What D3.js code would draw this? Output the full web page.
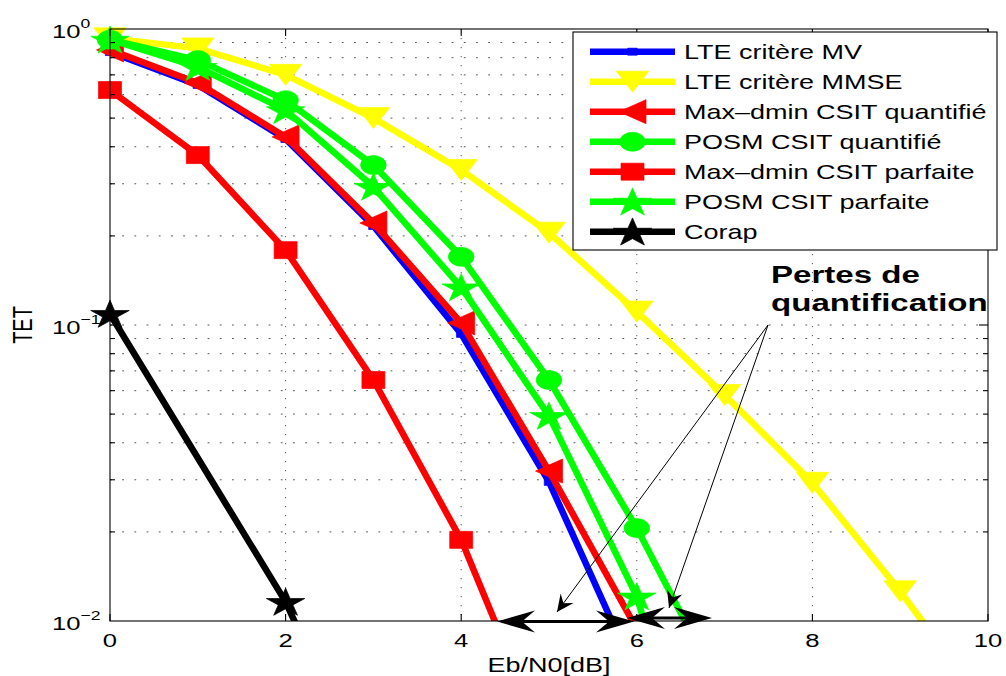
<!DOCTYPE html>
<html>
<head>
<meta charset="utf-8">
<script src="https://cdn.jsdelivr.net/npm/d3@7"></script>
<style>
  body { margin: 0; background: #fff; }
  svg { display: block; }
  text { font-family: "Liberation Sans", Arial, Helvetica, sans-serif; fill: #000; }
</style>
</head>
<body>
<svg id="chart" width="1006" height="676"></svg>
<script>
// Eb/N0 values (dB) at which each curve was simulated
const ebn0 = [0, 1, 2, 3, 4, 5, 6, 7, 8, 9, 10];
const corapEbn0 = [0, 2, 4];

// Bit error rate (TET) of each scheme
const lteMV       = [0.836, 0.647, 0.425, 0.216, 0.0933, 0.0295, 0.0065];
const lteMMSE     = [0.93, 0.86, 0.70, 0.50, 0.334, 0.205, 0.111, 0.058, 0.0293, 0.0126, 0.005];
const maxDminQ    = [0.85, 0.657, 0.432, 0.221, 0.1016, 0.0321, 0.0094];
const posmQ       = [0.92, 0.785, 0.575, 0.347, 0.170, 0.0652, 0.0206, 0.0055];
const maxDminP    = [0.622, 0.375, 0.179, 0.0652, 0.0188, 0.0036];
const posmP       = [0.92, 0.744, 0.532, 0.293, 0.134, 0.0493, 0.0121, 0.0012];
const corap       = [0.109, 0.0116, 0.0006];

const seriesNames = [
  "LTE critère MV",
  "LTE critère MMSE",
  "Max\u2013dmin CSIT quantifié",
  "POSM CSIT quantifié",
  "Max\u2013dmin CSIT parfaite",
  "POSM CSIT parfaite",
  "Corap"
];

// Axis ticks
const xTicks = [0, 2, 4, 6, 8, 10];
const yMajorTicks = [1, 0.1, 0.01];
const yTickExponents = ["0", "\u22121", "\u22122"];

const annotationLines = ["Pertes de", "quantification"];
const xLabel = "Eb/N0[dB]";
const yLabel = "TET";

// ---------------------------------------------------------------------------
const SX = 1.35;            // horizontal stretch of the whole figure (glyphs and markers)
const svg = d3.select("#chart");
const pL = 110, pR = 988, pT = 29, pB = 621;

const x = d3.scaleLinear().domain([0, 10]).range([pL, pR]);
const y = d3.scaleLog().domain([0.01, 1]).range([pB, pT]);

const series = [
  { name: seriesNames[0], xs: ebn0,      ys: lteMV,    color: "#0000ff", marker: "smallSquare" },
  { name: seriesNames[1], xs: ebn0,      ys: lteMMSE,  color: "#ffff00", marker: "triDown" },
  { name: seriesNames[2], xs: ebn0,      ys: maxDminQ, color: "#ff0000", marker: "triLeft" },
  { name: seriesNames[3], xs: ebn0,      ys: posmQ,    color: "#00ff00", marker: "circle" },
  { name: seriesNames[4], xs: ebn0,      ys: maxDminP, color: "#ff0000", marker: "square" },
  { name: seriesNames[5], xs: ebn0,      ys: posmP,    color: "#00ff00", marker: "star" },
  { name: seriesNames[6], xs: corapEbn0, ys: corap,    color: "#000000", marker: "star" }
];

// Marker outlines in unstretched units, centred on the data point
function markerPath(kind) {
  switch (kind) {
    case "smallSquare": return "M-3.5,-3.5H3.5V3.5H-3.5Z";
    case "square":      return "M-8.5,-8.5H8.5V8.5H-8.5Z";
    case "triDown":     return "M-12,-10.5L12,-10.5L0,10.5Z";
    case "triLeft":     return "M-10,0L10,-12L10,12Z";
    case "circle":      return d3.arc()({ innerRadius: 0, outerRadius: 9.5, startAngle: 0, endAngle: 2 * Math.PI });
    case "star": {
      const R = 15, r = R * 0.382, pts = [];
      for (let i = 0; i < 10; i++) {
        const a = -Math.PI / 2 + i * Math.PI / 5;
        const rad = i % 2 === 0 ? R : r;
        pts.push([rad * Math.cos(a), rad * Math.sin(a) + 1.2]);
      }
      return "M" + pts.map(p => p.join(",")).join("L") + "Z";
    }
  }
}

// Stretched text helper
function stext(g, px, py, str, opts = {}) {
  const t = g.append("text")
    .attr("transform", `translate(${px},${py}) scale(${SX},1)` + (opts.rotate ? ` rotate(${opts.rotate})` : ""))
    .attr("font-size", opts.size || 19)
    .attr("text-anchor", opts.anchor || "start");
  if (opts.weight) t.attr("font-weight", opts.weight);
  t.text(str);
  return t;
}

// ---------------------------------------------------------------------------
// Grid: dotted lines at the major x ticks and at every log tick in y
const gridG = svg.append("g").attr("stroke", "#555").attr("stroke-width", 1).attr("fill", "none");
xTicks.filter(v => v > 0 && v < 10).forEach(v => {
  gridG.append("line")
    .attr("x1", x(v)).attr("x2", x(v)).attr("y1", pT).attr("y2", pB)
    .attr("stroke-dasharray", "1.2,7.8");
});
const yAllTicks = [];
[0.01, 0.1].forEach(dec => { for (let k = 2; k <= 9; k++) yAllTicks.push(k * dec); });
yAllTicks.push(0.1);
yAllTicks.forEach(v => {
  gridG.append("line")
    .attr("x1", pL).attr("x2", pR).attr("y1", y(v)).attr("y2", y(v))
    .attr("stroke-dasharray", "1.8,10.4");
});

// Curves (clipped to the axes) and their markers
svg.append("clipPath").attr("id", "plotClip")
  .append("rect").attr("x", pL).attr("y", pT).attr("width", pR - pL).attr("height", pB - pT);

const line = d3.line().x(d => x(d[0])).y(d => y(d[1]));
series.forEach(s => {
  const pts = s.xs.slice(0, s.ys.length).map((v, i) => [v, s.ys[i]]);
  svg.append("path")
    .attr("clip-path", "url(#plotClip)")
    .attr("d", line(pts))
    .attr("fill", "none")
    .attr("stroke", s.color)
    .attr("stroke-width", 6.5)
    .attr("stroke-linejoin", "round");
  svg.append("g").selectAll("path")
    .data(pts.filter(p => p[1] >= 0.01 && p[1] <= 1))
    .join("path")
    .attr("d", markerPath(s.marker))
    .attr("transform", p => `translate(${x(p[0])},${y(p[1])}) scale(${SX},1)`)
    .attr("fill", s.color)
    .attr("stroke", s.color)
    .attr("stroke-width", 0.6);
});

// Axes box and inward ticks
const axG = svg.append("g").attr("stroke", "#000").attr("stroke-width", 1.1).attr("fill", "none");
axG.append("rect").attr("x", pL).attr("y", pT).attr("width", pR - pL).attr("height", pB - pT);
xTicks.forEach(v => {
  axG.append("line").attr("x1", x(v)).attr("x2", x(v)).attr("y1", pB).attr("y2", pB - 7);
  axG.append("line").attr("x1", x(v)).attr("x2", x(v)).attr("y1", pT).attr("y2", pT + 7);
});
yAllTicks.forEach(v => {
  const len = v === 0.1 ? 9 : 5;
  axG.append("line").attr("x1", pL).attr("x2", pL + len).attr("y1", y(v)).attr("y2", y(v));
  axG.append("line").attr("x1", pR).attr("x2", pR - len).attr("y1", y(v)).attr("y2", y(v));
});

// Tick labels
const labG = svg.append("g");
xTicks.forEach(v => stext(labG, x(v), pB + 26, String(v), { anchor: "middle", size: 19 }));
yMajorTicks.forEach((v, i) => {
  const t = labG.append("text")
    .attr("transform", `translate(52,${y(v) + 9}) scale(${SX},1)`)
    .attr("font-size", 19);
  t.append("tspan").text("10");
  t.append("tspan").attr("dy", -10).attr("font-size", 13).text(yTickExponents[i]);
});

// Axis titles
stext(labG, (pL + pR) / 2, 672, xLabel, { anchor: "middle", size: 20 });
stext(labG, 32, (pT + pB) / 2, yLabel, { anchor: "middle", size: 20, rotate: -90 });

// ---------------------------------------------------------------------------
// Annotation: quantisation losses
function arrowHead(g, tip, angle, L, W, notch) {
  const c = Math.cos(angle), s = Math.sin(angle);
  const pt = (u, v) => [tip[0] + u * c - v * s, tip[1] + u * s + v * c];
  const p = [pt(0, 0), pt(-L, -W), pt(-notch, 0), pt(-L, W)];
  g.append("path").attr("d", "M" + p.map(q => q.join(",")).join("L") + "Z").attr("fill", "#000");
}
const annG = svg.append("g");
const origin = [768, 325];
[[557, 612], [669, 608]].forEach(tip => {
  annG.append("line")
    .attr("x1", origin[0]).attr("y1", origin[1]).attr("x2", tip[0]).attr("y2", tip[1])
    .attr("stroke", "#000").attr("stroke-width", 1);
  const ang = Math.atan2(tip[1] - origin[1], tip[0] - origin[0]);
  arrowHead(annG, tip, ang, 17, 8, 11);
});

// Double-headed arrows along the 10^-2 line
[[497, 634, 621.5], [627, 712, 618]].forEach(([x1, x2, yy]) => {
  annG.append("line").attr("x1", x1 + 10).attr("x2", x2 - 10).attr("y1", yy).attr("y2", yy)
    .attr("stroke", "#000").attr("stroke-width", 3);
  arrowHead(annG, [x1, yy], Math.PI, 38, 11, 25);
  arrowHead(annG, [x2, yy], 0, 38, 11, 25);
});

annotationLines.forEach((str, i) => {
  stext(annG, 771, 283 + i * 28, str, { size: 24.5, weight: "bold" });
});

// ---------------------------------------------------------------------------
// Legend
const legG = svg.append("g");
legG.append("rect").attr("x", 573).attr("y", 32).attr("width", 424).attr("height", 218)
  .attr("fill", "#fff").attr("stroke", "#000").attr("stroke-width", 1.1);
series.forEach((s, i) => {
  const ry = 51.7 + i * 30;
  legG.append("line").attr("x1", 590).attr("x2", 675).attr("y1", ry).attr("y2", ry)
    .attr("stroke", s.color).attr("stroke-width", 6.5);
  legG.append("path").attr("d", markerPath(s.marker))
    .attr("transform", `translate(632.5,${ry}) scale(${SX},1)`)
    .attr("fill", s.color).attr("stroke", s.color).attr("stroke-width", 0.6);
  stext(legG, 684, ry + 7.5, s.name, { size: 20 });
});
</script>
</body>
</html>
